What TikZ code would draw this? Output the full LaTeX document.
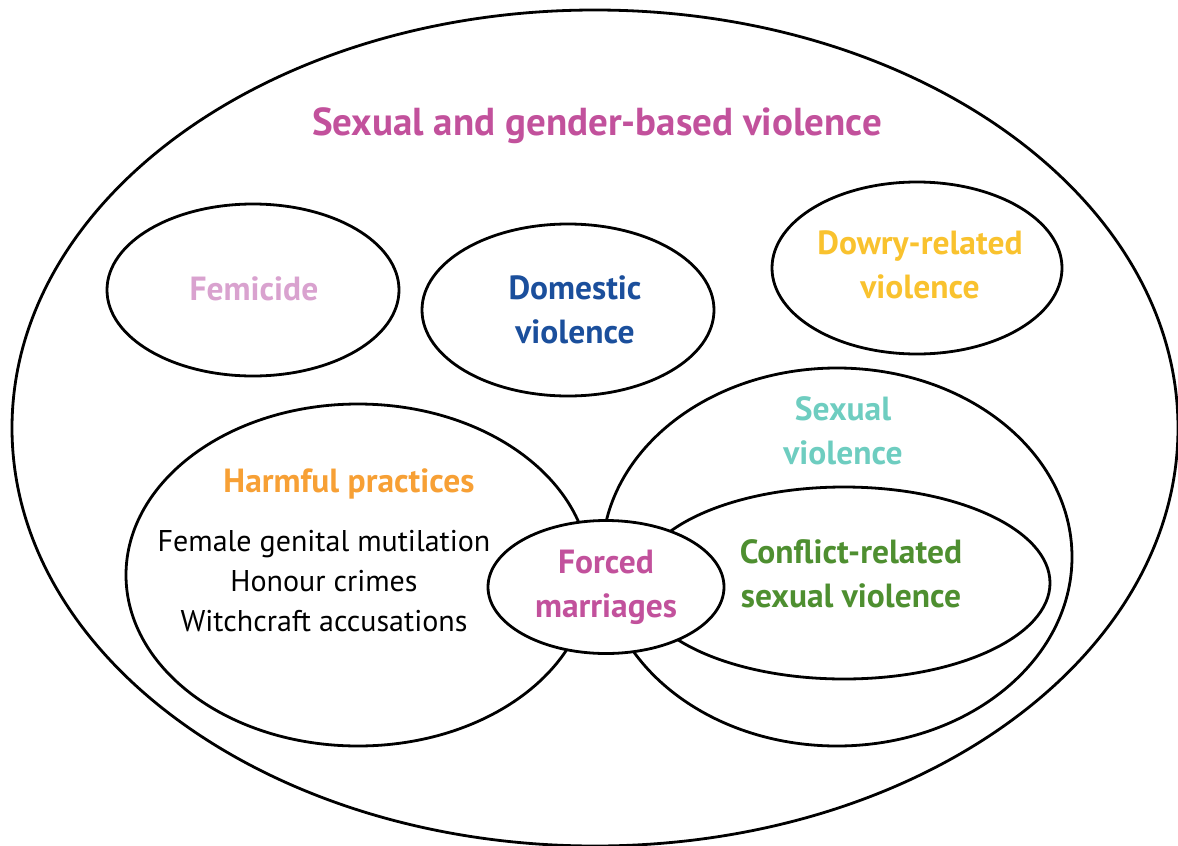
\documentclass[tikz,border=0pt]{standalone}
\usepackage{fontspec}
\setmainfont{PT Sans}
\usetikzlibrary{shapes.geometric}
\definecolor{cmag}{HTML}{C2519C}
\definecolor{cpink}{HTML}{D9A2CF}
\definecolor{cblue}{HTML}{1B4F9C}
\definecolor{cyel}{HTML}{F9C22E}
\definecolor{cteal}{HTML}{6ECDC0}
\definecolor{corange}{HTML}{F7A035}
\definecolor{cgreen}{HTML}{4E8F30}
\tikzset{
  oval/.style={ellipse, draw=black, line width=2.8pt, inner sep=0pt},
  lab/.style={font=\fontsize{33.5}{44}\selectfont\bfseries, align=center},
  plain/.style={font=\fontsize{30}{40}\selectfont, align=center, text=black}
}
\begin{document}
\begin{tikzpicture}[x=1pt,y=-1pt]
\useasboundingbox (0,0) rectangle (1178,846);
\node[oval, minimum width=1166pt, minimum height=836pt] (outer) at (595,428) {};
\node[lab, text=cmag, font=\fontsize{39}{44}\selectfont\bfseries] (title) at (597,126) {Sexual and gender-based violence};
\node[oval, minimum width=292pt, minimum height=172pt] (fem) at (253,290) {};
\node[lab, text=cpink] (femlab) at (254,289) {Femicide};
\node[oval, minimum width=292pt, minimum height=172pt] (dom) at (568,310) {};
\node[lab, text=cblue] (domlab) at (575,310) {Domestic\\violence};
\node[oval, minimum width=290pt, minimum height=172pt] (dow) at (917,268) {};
\node[lab, text=cyel] (dowlab) at (920,265) {Dowry-related\\violence};
\node[oval, minimum width=464pt, minimum height=342pt] (harm) at (358,575) {};
\node[oval, minimum width=470pt, minimum height=378pt] (sex) at (837,557) {};
\node[lab, text=cteal] (sexlab) at (843,431) {Sexual\\violence};
\node[lab, text=corange] (harmlab) at (349,484) {Harmful practices};
\node[plain] (list) at (324,581) {Female genital mutilation\\Honour crimes\\Witchcraft accusations};
\node[oval, fill=white, minimum width=412pt, minimum height=192pt] (conf) at (844,583) {};
\node[lab, text=cgreen] (conflab) at (851,574) {Conflict-related\\sexual violence};
\node[oval, fill=white, minimum width=236pt, minimum height=133pt, lab, text=cmag] (forced) at (606,587) {Forced\\marriages};
\end{tikzpicture}
\end{document}
